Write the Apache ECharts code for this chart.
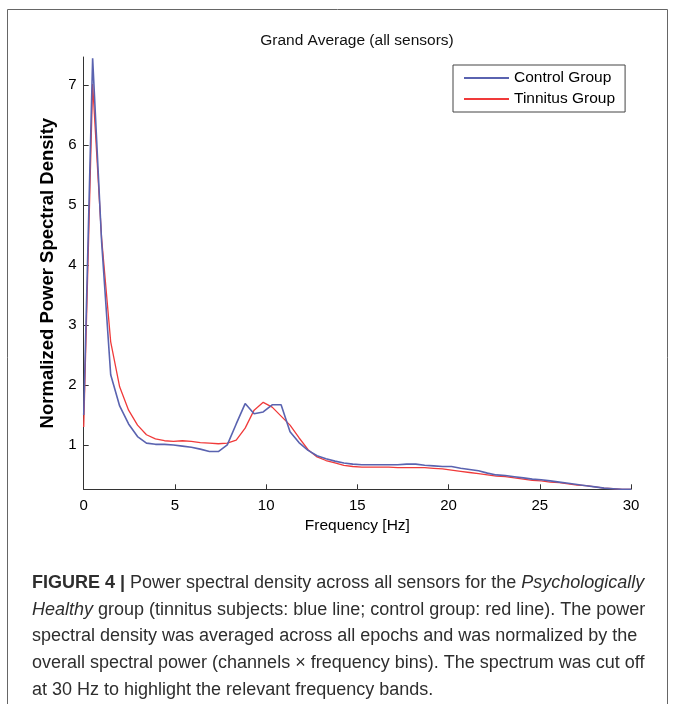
<!DOCTYPE html>
<html>
<head>
<meta charset="utf-8">
<script src="https://cdn.jsdelivr.net/npm/echarts@6/dist/echarts.min.js"></script>
<style>
html,body{margin:0;padding:0;background:#fff;}
#c{width:673px;height:704px;}
</style>
</head>
<body>
<div id="c"></div>
<script>
// Frequency bins (Hz)
var freqs = [0,0.49,0.98,1.48,1.97,2.46,2.95,3.44,3.93,4.43,4.92,5.41,5.90,6.39,6.89,7.38,7.87,8.36,8.85,9.34,9.84,10.33,10.82,11.31,11.80,12.30,12.79,13.28,13.77,14.26,14.75,15.25,15.74,16.23,16.72,17.21,17.70,18.20,18.69,19.18,19.67,20.16,20.66,21.15,21.64,22.13,22.62,23.11,23.61,24.10,24.59,25.08,25.57,26.07,26.56,27.05,27.54,28.03,28.52,29.02,29.51,30.00];
// Control Group (blue)
var control = [1.50,7.45,4.40,2.17,1.65,1.35,1.14,1.03,1.01,1.01,1.00,0.98,0.96,0.93,0.89,0.89,1.00,1.35,1.69,1.52,1.55,1.67,1.67,1.22,1.04,0.91,0.82,0.77,0.73,0.70,0.68,0.67,0.67,0.67,0.67,0.67,0.68,0.68,0.66,0.65,0.64,0.64,0.61,0.59,0.57,0.53,0.50,0.49,0.47,0.45,0.43,0.42,0.40,0.38,0.36,0.34,0.32,0.30,0.28,0.27,0.26,0.26];
// Tinnitus Group (red)
var tinnitus = [1.30,7.02,4.45,2.72,1.97,1.58,1.33,1.17,1.10,1.07,1.06,1.07,1.06,1.04,1.03,1.02,1.03,1.08,1.28,1.58,1.71,1.63,1.48,1.33,1.12,0.92,0.80,0.74,0.70,0.66,0.64,0.63,0.63,0.63,0.63,0.62,0.62,0.62,0.62,0.61,0.60,0.58,0.56,0.54,0.52,0.50,0.48,0.47,0.45,0.43,0.41,0.40,0.38,0.37,0.35,0.33,0.32,0.30,0.28,0.27,0.26,0.26];
var yTicks = [1,2,3,4,5,6,7];
var xTicks = [0,5,10,15,20,25,30];

var captionLines = [
  "{b|FIGURE 4 |} Power spectral density across all sensors for the {i|Psychologically}",
  "{i|Healthy} group (tinnitus subjects: blue line; control group: red line). The power",
  "spectral density was averaged across all epochs and was normalized by the",
  "overall spectral power (channels \u00d7 frequency bins). The spectrum was cut off",
  "at 30 Hz to highlight the relevant frequency bands."
];

function pairs(xs, ys){ return xs.map(function(x,i){return [x, ys[i]];}); }

var FONT = "'Liberation Sans', Arial, Helvetica, sans-serif";
var capFont = 18;
var graphics = [{
  type:'rect', shape:{x:7.5,y:9.5,width:660,height:720},
  style:{fill:'none', stroke:'#666', lineWidth:1}, silent:true
},{
  type:'text', x:357, y:41,
  style:{text:'Grand Average (all sensors)', font:'15.5px '+FONT, fill:'#111',
         textAlign:'center', textVerticalAlign:'middle'}
}];
captionLines.forEach(function(t,i){
  graphics.push({
    type:'text', left:32, top:574 + i*26.7,
    style:{
      text:t, fill:'#2e2e2e', font: capFont+'px '+FONT,
      rich:{
        b:{fontWeight:'bold', fontSize:capFont, fontFamily:FONT, fill:'#2e2e2e'},
        i:{fontStyle:'italic', fontSize:capFont, fontFamily:FONT, fill:'#2e2e2e'}
      }
    }
  });
});

var chart = echarts.init(document.getElementById('c'), null, {renderer:'canvas'});
chart.setOption({
  backgroundColor:'#fff',
  animation:false,
  legend:{
    left:453, top:65, orient:'vertical',
    backgroundColor:'#fff', borderColor:'#444', borderWidth:1,
    padding:[5,10,5,10], itemGap:5, itemWidth:45, itemHeight:14,
    itemStyle:{opacity:0},
    textStyle:{fontFamily:FONT, fontSize:15.5, color:'#000'},
    data:['Control Group','Tinnitus Group']
  },
  grid:{left:83.7, right:42, top:57, bottom:214.7, containLabel:false},
  xAxis:{
    type:'value', min:0, max:30, interval:5,
    name:'Frequency [Hz]', nameLocation:'middle', nameGap:26,
    nameTextStyle:{fontFamily:FONT, fontSize:15.5, color:'#000'},
    axisLine:{show:true, lineStyle:{color:'#333', width:1}},
    axisTick:{show:true, inside:true, length:5, lineStyle:{color:'#333'}},
    axisLabel:{fontFamily:FONT, fontSize:15, color:'#000', margin:9,
      customValues: xTicks},
    splitLine:{show:false}
  },
  yAxis:{
    type:'value', min:0.26, max:7.47,
    name:'Normalized Power Spectral Density', nameLocation:'middle', nameGap:16,
    nameTextStyle:{fontFamily:FONT, fontSize:18.5, fontWeight:'bold', color:'#000'},
    axisLine:{show:true, lineStyle:{color:'#333', width:1}},
    axisTick:{show:true, inside:true, length:5, lineStyle:{color:'#333'}, customValues: yTicks},
    axisLabel:{fontFamily:FONT, fontSize:15, color:'#000', margin:7, customValues: yTicks},
    splitLine:{show:false}
  },
  series:[
    {name:'Control Group', type:'line', data:pairs(freqs, control), symbol:'none',
     lineStyle:{color:'#5a63b0', width:1.6}, itemStyle:{color:'#5a63b0'}, z:3},
    {name:'Tinnitus Group', type:'line', data:pairs(freqs, tinnitus), symbol:'none',
     lineStyle:{color:'#f03a3a', width:1.3}, itemStyle:{color:'#f03a3a'}, z:2}
  ],
  graphic: graphics
});
</script>
</body>
</html>
